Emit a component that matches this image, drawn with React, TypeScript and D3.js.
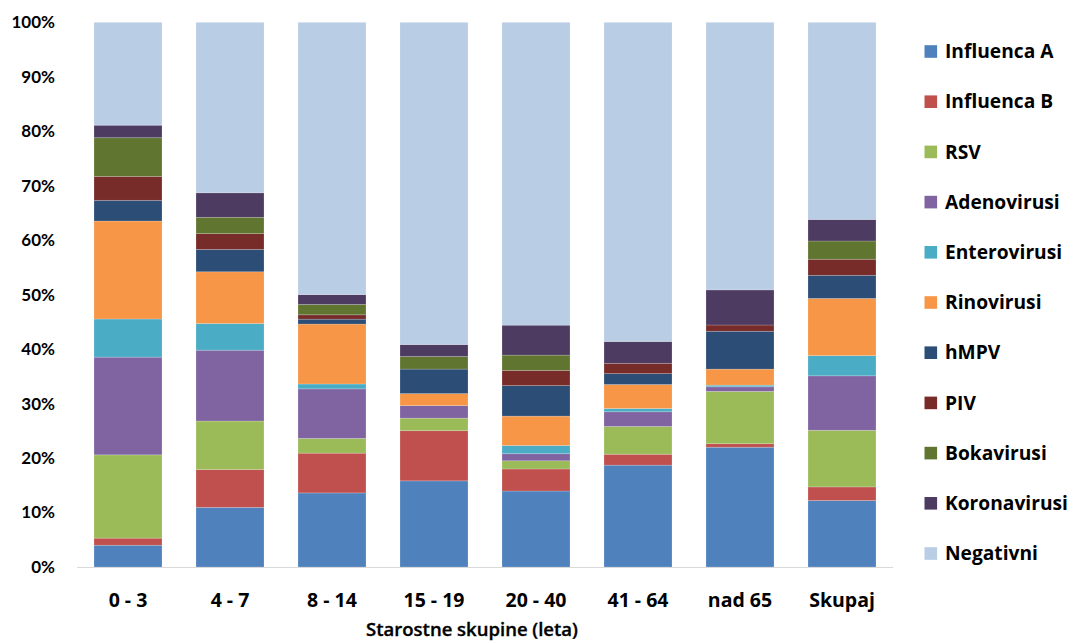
import React from "react";
import * as d3 from "d3";

const categories = ["0 - 3", "4 - 7", "8 - 14", "15 - 19", "20 - 40", "41 - 64", "nad 65", "Skupaj"];
const seriesNames = ["Influenca A", "Influenca B", "RSV", "Adenovirusi", "Enterovirusi", "Rinovirusi", "hMPV", "PIV", "Bokavirusi", "Koronavirusi", "Negativni"];
const seriesColors = ["#4F81BD", "#C0504D", "#9BBB59", "#8064A2", "#4BACC6", "#F79646", "#2C4D75", "#772C2A", "#5F7530", "#4D3B62", "#B9CDE5"];

const influencaA = [4.0, 10.95, 13.6, 15.8, 13.95, 18.7, 22.0, 12.2];
const influencaB = [1.3, 6.95, 7.3, 9.2, 4.05, 2.0, 0.65, 2.5];
const rsv = [15.3, 8.9, 2.7, 2.3, 1.5, 5.1, 9.6, 10.4];
const adenovirusi = [17.95, 13.0, 9.1, 2.3, 1.3, 2.7, 0.85, 10.0];
const enterovirusi = [7.0, 4.9, 0.9, 0, 1.5, 0.6, 0.3, 3.7];
const rinovirusi = [18.0, 9.5, 11.0, 2.2, 5.4, 4.4, 2.95, 10.5];
const hmpv = [3.8, 4.1, 0.9, 4.5, 5.6, 2.0, 6.95, 4.25];
const piv = [4.4, 2.9, 0.8, 0, 2.8, 1.9, 1.15, 2.95];
const bokavirusi = [7.1, 3.0, 1.9, 2.3, 2.8, 0, 0, 3.35];
const koronavirusi = [2.3, 4.5, 1.8, 2.2, 5.5, 4.0, 6.45, 3.95];
const negativni = [18.9, 31.3, 50.0, 59.1, 55.6, 58.6, 49.15, 36.2];

const yTicks = [0, 10, 20, 30, 40, 50, 60, 70, 80, 90, 100];

const seriesValues = [influencaA, influencaB, rsv, adenovirusi, enterovirusi, rinovirusi, hmpv, piv, bokavirusi, koronavirusi, negativni];

const W = 1073;
const H = 643;
const FONT = "Lato, 'Open Sans', sans-serif";
const FONT2 = "'Open Sans', Lato, sans-serif";

export default function App() {
  const rows = categories.map((c, i) => {
    const r: any = { cat: c };
    seriesNames.forEach((s, j) => (r[s] = seriesValues[j][i]));
    return r;
  });
  const stacked = d3.stack<any>().keys(seriesNames).offset(d3.stackOffsetExpand)(rows);

  const x = d3.scaleBand<string>().domain(categories).range([77, 893]).paddingInner(1 / 3).paddingOuter(1 / 6);
  const y = d3.scaleLinear().domain([0, 1]).range([567, 22.3]);
  const yAxisScale = d3.scaleLinear().domain([0, 100]).range([567, 22.3]);

  return (
    <svg width={W} height={H} style={{ position: "absolute", left: 0, top: 0, background: "#fff" }} fontFamily={FONT}>
      {stacked.map((layer, j) => (
        <g key={layer.key} fill={seriesColors[j]}>
          {layer.map((d, i) => {
            const h = y(d[0]) - y(d[1]);
            if (h <= 0.01) return null;
            return (
              <rect
                key={i}
                x={x(categories[i])}
                y={y(d[1])}
                width={x.bandwidth()}
                height={h}
                stroke="rgba(255,255,255,0.25)"
                strokeWidth={0.75}
              />
            );
          })}
        </g>
      ))}
      <line x1={77} x2={893} y1={567.5} y2={567.5} stroke="#D9D9D9" strokeWidth={1} />
      {yTicks.map((t) => (
        <text
          key={t}
          x={55}
          y={yAxisScale(t)}
          dy="0.35em"
          textAnchor="end"
          fontSize={17}
          fontWeight={700}
          fill="#000"
        >
          {t}%
        </text>
      ))}
      {categories.map((c) => (
        <text
          key={c}
          x={(x(c) as number) + x.bandwidth() / 2}
          y={600}
          dy="0.35em"
          textAnchor="middle"
          fontSize={19.5}
          fontWeight={700}
          fontFamily={FONT2}
          fill="#000"
        >
          {c}
        </text>
      ))}
      <text
        x={472}
        y={630}
        dy="0.35em"
        textAnchor="middle"
        fontSize={18.5}
        fontWeight={600}
        fontFamily={FONT2}
        fill="#000"
        stroke="#000"
        strokeWidth={0.35}
      >
        Starostne skupine (leta)
      </text>
      {seriesNames.map((s, j) => {
        const cy = 51.5 + j * 50.2;
        return (
          <g key={s}>
            <rect x={924.5} y={cy - 6.3} width={12.6} height={12.6} fill={seriesColors[j]} />
            <text x={945} y={cy} dy="0.35em" fontSize={19.2} fontWeight={700} fontFamily={FONT2} fill="#000">
              {s}
            </text>
          </g>
        );
      })}
    </svg>
  );
}
